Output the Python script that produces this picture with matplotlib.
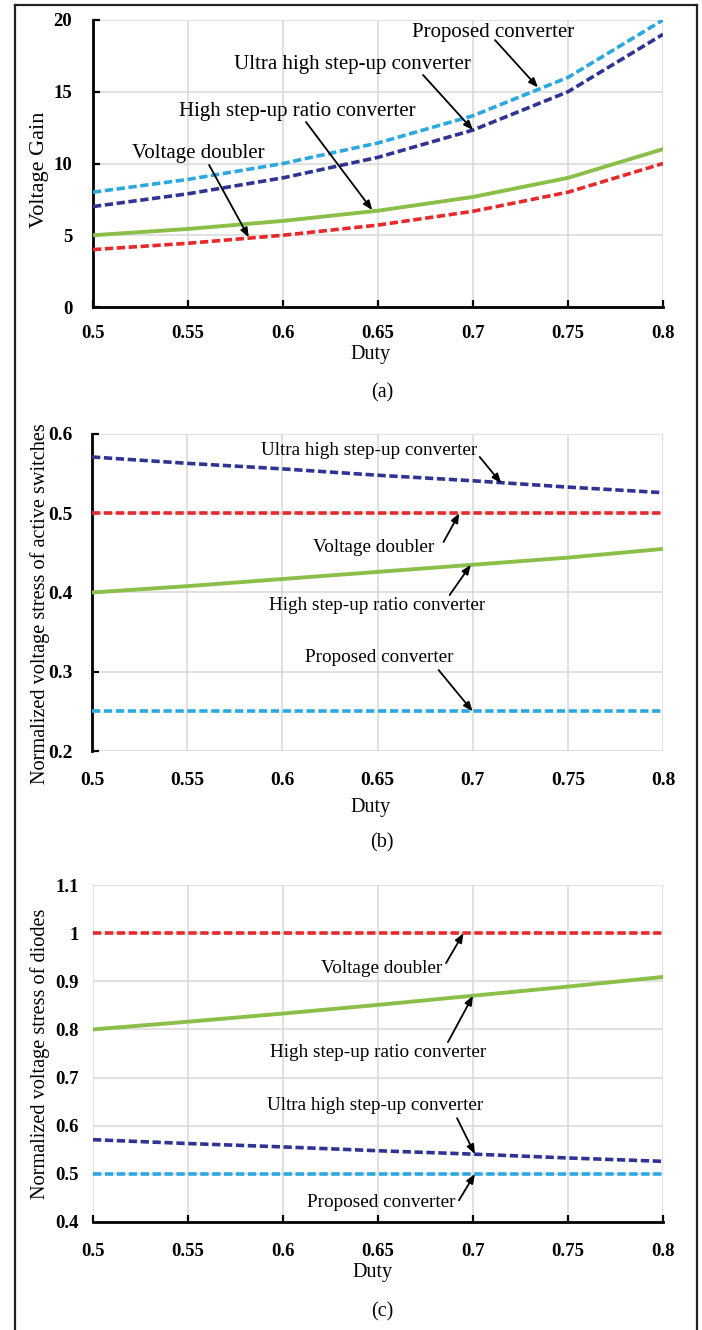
import matplotlib
matplotlib.use("Agg")
import matplotlib.pyplot as plt
from matplotlib.lines import Line2D

plt.rcParams['font.family'] = ['Liberation Serif', 'DejaVu Serif']

# ---------------- data ----------------
duty = [0.5, 0.55, 0.6, 0.65, 0.7, 0.75, 0.8]
duty_ticklabels = ["0.5", "0.55", "0.6", "0.65", "0.7", "0.75", "0.8"]

# (a) voltage gain
gain_proposed = [8.0, 8.89, 10.0, 11.43, 13.33, 16.0, 20.0]
gain_ultra = [7.0, 7.89, 9.0, 10.43, 12.33, 15.0, 19.0]
gain_high = [5.0, 5.44, 6.0, 6.71, 7.67, 9.0, 11.0]
gain_doubler = [4.0, 4.44, 5.0, 5.71, 6.67, 8.0, 10.0]
gain_yticks = [0, 5, 10, 15, 20]
gain_yticklabels = ["0", "5", "10", "15", "20"]

# (b) normalized voltage stress of active switches
sw_ultra = [0.571, 0.563, 0.556, 0.548, 0.541, 0.533, 0.526]
sw_doubler = [0.5, 0.5, 0.5, 0.5, 0.5, 0.5, 0.5]
sw_high = [0.4, 0.408, 0.417, 0.426, 0.435, 0.444, 0.455]
sw_proposed = [0.25, 0.25, 0.25, 0.25, 0.25, 0.25, 0.25]
sw_yticks = [0.2, 0.3, 0.4, 0.5, 0.6]
sw_yticklabels = ["0.2", "0.3", "0.4", "0.5", "0.6"]

# (c) normalized voltage stress of diodes
di_doubler = [1.0, 1.0, 1.0, 1.0, 1.0, 1.0, 1.0]
di_high = [0.8, 0.816, 0.833, 0.851, 0.870, 0.889, 0.909]
di_ultra = [0.571, 0.563, 0.556, 0.548, 0.541, 0.533, 0.526]
di_proposed = [0.5, 0.5, 0.5, 0.5, 0.5, 0.5, 0.5]
di_yticks = [0.4, 0.5, 0.6, 0.7, 0.8, 0.9, 1.0, 1.1]
di_yticklabels = ["0.4", "0.5", "0.6", "0.7", "0.8", "0.9", "1", "1.1"]

# ---------------- style ----------------
C_CYAN = "#2aa8df"
C_NAVY = "#2f3393"
C_GREEN = "#8cbf4a"
C_RED = "#e62a2c"
GRID = "#d9d9d9"
DASH = (0, (2.3, 1.0))
LW = 2.6

W, H = 702, 1330
fig = plt.figure(figsize=(W / 100, H / 100), dpi=100)


def add_axes_px(left, top, right, bottom):
    return fig.add_axes([left / W, 1 - bottom / H, (right - left) / W, (bottom - top) / H])


def style_axes(ax, ylim, yticks, yticklabels, black_left, black_bottom, xpad, ypad, tick_fs):
    ax.set_xlim(duty[0], duty[-1])
    ax.set_ylim(*ylim)
    ax.set_xticks(duty)
    ax.set_xticklabels(duty_ticklabels)
    ax.set_yticks(yticks)
    ax.set_yticklabels(yticklabels)
    for s in ax.spines.values():
        s.set_visible(False)
    ax.grid(True, color=GRID, lw=1.1, zorder=0)
    ax.set_axisbelow(True)
    if black_left:
        ax.spines['left'].set_visible(True)
        ax.spines['left'].set_color('black')
        ax.spines['left'].set_linewidth(2.0)
        ax.tick_params(axis='y', direction='in', length=5, width=1.6, color='black')
    else:
        ax.tick_params(axis='y', length=0)
    if black_bottom:
        ax.spines['bottom'].set_visible(True)
        ax.spines['bottom'].set_color('black')
        ax.spines['bottom'].set_linewidth(2.0)
        ax.tick_params(axis='x', direction='in', length=5, width=1.6, color='black')
    else:
        ax.tick_params(axis='x', length=0)
    ax.tick_params(axis='x', pad=xpad, labelsize=tick_fs)
    ax.tick_params(axis='y', pad=ypad, labelsize=tick_fs)
    for lab in ax.get_xticklabels() + ax.get_yticklabels():
        lab.set_fontweight('bold')


def note(ax, text, text_xy, tail, head, fs):
    ax.annotate("", xy=head, xytext=tail,
                arrowprops=dict(arrowstyle='-|>,head_length=0.55,head_width=0.22',
                                color='black', lw=1.3, shrinkA=0, shrinkB=0),
                zorder=5)
    ax.text(text_xy[0], text_xy[1], text, ha='center', va='center', fontsize=fs, zorder=6)


# ---------------- (a) ----------------
ax1 = add_axes_px(93, 20, 663, 307)
ax1.plot(duty, gain_proposed, color=C_CYAN, lw=LW, ls=DASH, zorder=3)
ax1.plot(duty, gain_ultra, color=C_NAVY, lw=LW, ls=DASH, zorder=3)
ax1.plot(duty, gain_high, color=C_GREEN, lw=2.8, ls='-', zorder=3)
ax1.plot(duty, gain_doubler, color=C_RED, lw=LW, ls=DASH, zorder=3)
style_axes(ax1, (0, 20), gain_yticks, gain_yticklabels, True, True, 13, 15, 13.5)
ax1.set_xlabel("Duty", fontsize=14.5)
ax1.xaxis.set_label_coords(0.487, -0.167)
ax1.xaxis.label.set_va('center')
ax1.set_ylabel("Voltage Gain", fontsize=16)
ax1.yaxis.set_label_coords(-0.093, 0.477)
ax1.yaxis.label.set_va('center')
note(ax1, "Proposed converter", (0.7105, 19.16), (0.7116, 18.6), (0.7342, 15.3), 15)
note(ax1, "Ultra high step-up converter", (0.6363, 16.93), (0.6737, 16.17), (0.70, 12.33), 15)
note(ax1, "High step-up ratio converter", (0.6074, 13.59), (0.6121, 12.89), (0.647, 6.75), 15)
note(ax1, "Voltage doubler", (0.5553, 10.73), (0.5611, 9.90), (0.582, 4.85), 15)

# ---------------- (b) ----------------
ax2 = add_axes_px(92, 434, 663, 751)
ax2.plot(duty, sw_ultra, color=C_NAVY, lw=LW, ls=DASH, zorder=3)
ax2.plot(duty, sw_doubler, color=C_RED, lw=LW, ls=DASH, zorder=3)
ax2.plot(duty, sw_high, color=C_GREEN, lw=2.8, ls='-', zorder=3)
ax2.plot(duty, sw_proposed, color=C_CYAN, lw=LW, ls=DASH, zorder=3)
style_axes(ax2, (0.2, 0.6), sw_yticks, sw_yticklabels, True, False, 15, 14, 14)
ax2.set_xlabel("Duty", fontsize=14.5)
ax2.xaxis.set_label_coords(0.487, -0.177)
ax2.xaxis.label.set_va('center')
ax2.set_ylabel("Normalized voltage stress of active switches", fontsize=14.6)
ax2.yaxis.set_label_coords(-0.091, 0.464)
ax2.yaxis.label.set_va('center')
note(ax2, "Ultra high step-up converter", (0.6458, 0.5798), (0.7037, 0.571), (0.715, 0.538), 13.8)
note(ax2, "Voltage doubler", (0.6479, 0.4574), (0.6847, 0.4637), (0.693, 0.5), 13.8)
note(ax2, "High step-up ratio converter", (0.65, 0.383), (0.6879, 0.3968), (0.699, 0.435), 13.8)
note(ax2, "Proposed converter", (0.6511, 0.3174), (0.6821, 0.3022), (0.70, 0.25), 13.8)

# ---------------- (c) ----------------
ax3 = add_axes_px(93, 885, 663, 1222)
ax3.plot(duty, di_doubler, color=C_RED, lw=LW, ls=DASH, zorder=3)
ax3.plot(duty, di_high, color=C_GREEN, lw=2.8, ls='-', zorder=3)
ax3.plot(duty, di_ultra, color=C_NAVY, lw=LW, ls=DASH, zorder=3)
ax3.plot(duty, di_proposed, color=C_CYAN, lw=LW, ls=DASH, zorder=3)
style_axes(ax3, (0.4, 1.1), di_yticks, di_yticklabels, False, True, 15, 10, 13.5)
ax3.set_xlabel("Duty", fontsize=14.5)
ax3.xaxis.set_label_coords(0.49, -0.151)
ax3.xaxis.label.set_va('center')
ax3.set_ylabel("Normalized voltage stress of diodes", fontsize=14.6)
ax3.yaxis.set_label_coords(-0.093, 0.50)
ax3.yaxis.label.set_va('center')
note(ax3, "Voltage doubler", (0.6521, 0.9274), (0.6858, 0.9378), (0.695, 1.0), 13.8)
note(ax3, "High step-up ratio converter", (0.65, 0.7528), (0.6868, 0.7736), (0.70, 0.87), 13.8)
note(ax3, "Ultra high step-up converter", (0.6484, 0.6426), (0.6916, 0.6156), (0.701, 0.541), 13.8)
note(ax3, "Proposed converter", (0.6516, 0.441), (0.6926, 0.445), (0.701, 0.5), 13.8)

# ---------------- captions & frame ----------------
for lab, y in (("(a)", 393), ("(b)", 843), ("(c)", 1312)):
    fig.text(382 / W, 1 - y / H, lab, ha='center', va='center', fontsize=14.5)

frame_kw = dict(color='#222222', lw=1.6, transform=fig.transFigure)
fig.add_artist(Line2D([15 / W, 15 / W], [0, 1 - 5 / H], **frame_kw))
fig.add_artist(Line2D([15 / W, 697 / W], [1 - 5 / H, 1 - 5 / H], **frame_kw))
fig.add_artist(Line2D([697 / W, 697 / W], [0, 1 - 5 / H], **frame_kw))

fig.savefig("out.png", dpi=100)
